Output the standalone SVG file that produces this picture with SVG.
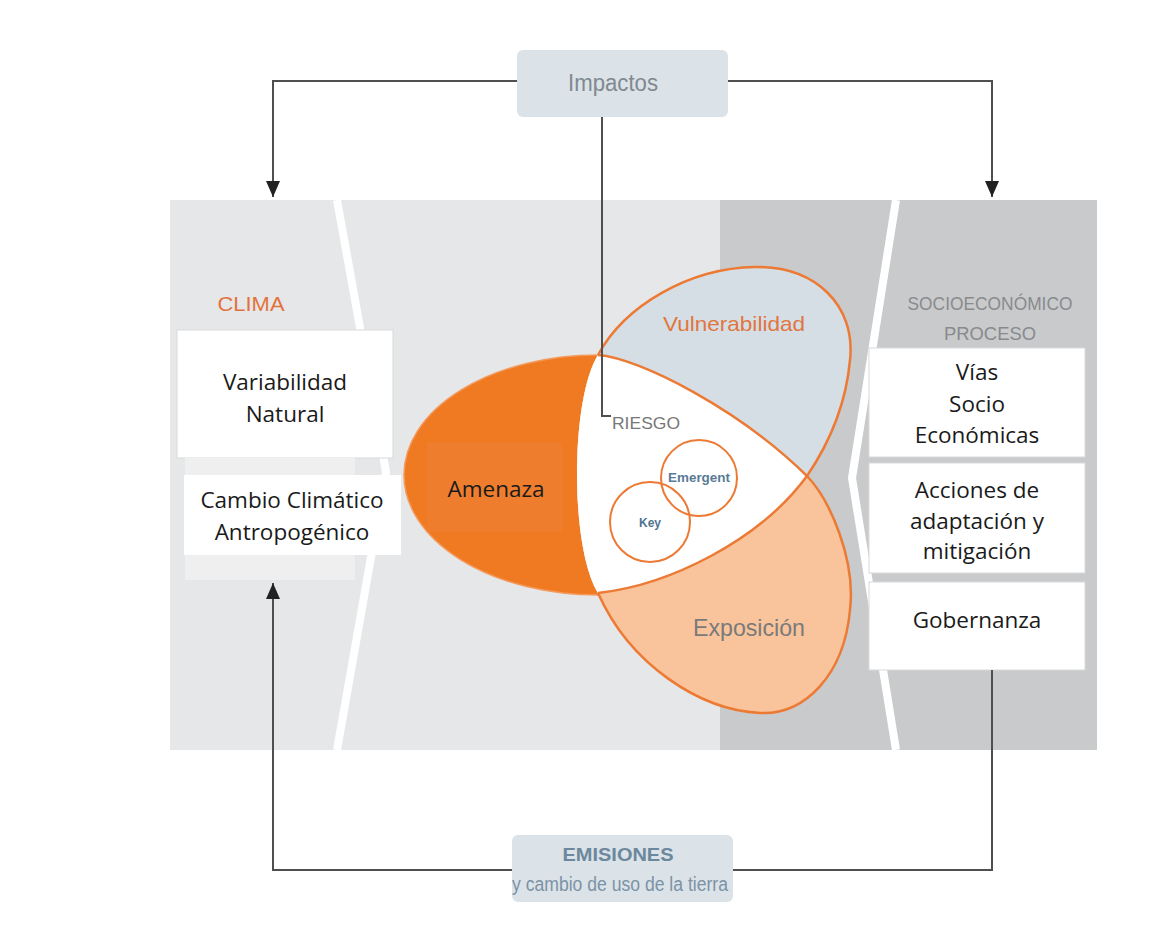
<svg xmlns="http://www.w3.org/2000/svg" width="1172" height="943" viewBox="0 0 1172 943">
<defs>
<style>
.box{fill:#ffffff;stroke:#d8d9db;stroke-width:1}
.bt{font-family:"Open Sans","Liberation Sans",sans-serif;font-size:22.5px;fill:#1a1a1a;text-anchor:middle}
.cond{font-family:"Liberation Sans",Arial,sans-serif;text-anchor:middle}
.conn{fill:none;stroke:#4f4f4f;stroke-width:2}
.ol{fill:none;stroke:#ec7a35;stroke-width:2.5}
</style>
<marker id="arr" markerWidth="16" markerHeight="14" refX="16" refY="7" orient="auto" markerUnits="userSpaceOnUse" viewBox="0 0 16 14">
<path d="M0,0 L16,7 L0,14 Z" fill="#222"/>
</marker>
</defs>
<rect width="1172" height="943" fill="#ffffff"/>
<g id="background">
<rect x="170" y="200" width="551" height="550" fill="#e6e7e9"/>
<rect x="720" y="200" width="377" height="550" fill="#c9cacc"/>
<polyline points="337,200 386,472 337,750" fill="none" stroke="#ffffff" stroke-width="8"/>
<polyline points="896,200 852,478 896,750" fill="none" stroke="#ffffff" stroke-width="8"/>
</g>
<g id="clima">
<text x="251" y="311" class="cond" font-size="20" fill="#e2733c" textLength="67" lengthAdjust="spacingAndGlyphs">CLIMA</text>
</g>
<g id="variabilidad">
<rect class="box" x="177" y="330" width="216" height="128"/>
<text class="bt" x="285" y="390">Variabilidad</text>
<text class="bt" x="285" y="422">Natural</text>
</g>
<g id="cambio">
<rect x="185" y="458" width="170" height="122" fill="#efeff0"/>
<rect x="184" y="475" width="217" height="80" fill="#ffffff"/>
<text class="bt" x="292" y="508">Cambio Climático</text>
<text class="bt" x="292" y="540">Antropogénico</text>
</g>
<g id="socio-title">
<text class="cond" x="990" y="310" font-size="18" fill="#888a8c" textLength="165" lengthAdjust="spacingAndGlyphs">SOCIOECONÓMICO</text>
<text class="cond" x="990" y="340" font-size="18" fill="#888a8c" textLength="92" lengthAdjust="spacingAndGlyphs">PROCESO</text>
</g>
<g id="vias">
<rect class="box" x="869" y="348" width="216" height="109"/>
<text class="bt" x="977" y="380">Vías</text>
<text class="bt" x="977" y="412">Socio</text>
<text class="bt" x="977" y="443">Económicas</text>
</g>
<g id="acciones">
<rect class="box" x="869" y="463" width="216" height="110"/>
<text class="bt" x="977" y="498">Acciones de</text>
<text class="bt" x="977" y="529">adaptación y</text>
<text class="bt" x="977" y="559">mitigación</text>
</g>
<g id="gobernanza">
<rect class="box" x="869" y="582" width="216" height="88"/>
<text class="bt" x="977" y="628">Gobernanza</text>
</g>
<g id="amenaza">
<ellipse cx="598" cy="475" rx="194" ry="120" fill="#f07a22" stroke="#f39a5c" stroke-width="1.5"/>
<rect x="427" y="442" width="135" height="90" fill="#ee7e2e"/>
<text class="bt" x="496" y="497" font-size="26px">Amenaza</text>
</g>
<g id="vulnerabilidad">
<path d="M598,355 C625,305 690,268 755,267 C815,266 856,305 850,360 C846,405 828,445 807,476 C760,540 670,585 598,593 C570,548 570,400 598,355 Z" fill="#d6dee5"/>
</g>
<g id="exposicion">
<path d="M598,355 C640,358 740,410 807,476 C830,500 856,560 850,610 C844,675 805,715 760,713 C700,710 630,665 598,593 C570,548 570,400 598,355 Z" fill="#f9c49c"/>
</g>
<g id="riesgo">
<path d="M598,355 C640,358 740,410 807,476 C760,540 670,585 598,593 C570,548 570,400 598,355 Z" fill="#ffffff"/>
</g>
<g id="outlines">
<path class="ol" d="M598,355 C625,305 690,268 755,267 C815,266 856,305 850,360 C846,405 828,445 807,476 C760,540 670,585 598,593"/>
<path class="ol" d="M598,355 C640,358 740,410 807,476 C830,500 856,560 850,610 C844,675 805,715 760,713 C700,710 630,665 598,593"/>
<text class="cond" x="734" y="331" font-size="21" fill="#e0763f" textLength="142" lengthAdjust="spacingAndGlyphs">Vulnerabilidad</text>
<text class="cond" x="749" y="636" font-size="24" fill="#7a7a7a" textLength="112" lengthAdjust="spacingAndGlyphs">Exposición</text>
</g>
<g id="key">
<circle cx="650" cy="522" r="40" fill="none" stroke="#ec7a35" stroke-width="2"/>
<text class="cond" x="650" y="527" font-size="12" font-weight="bold" fill="#4f7390">Key</text>
</g>
<g id="emergent">
<circle cx="699" cy="478" r="38" fill="none" stroke="#ec7a35" stroke-width="2"/>
<text class="cond" x="699" y="482" font-size="13" font-weight="bold" fill="#5a7b95" textLength="62" lengthAdjust="spacingAndGlyphs">Emergent</text>
</g>
<g id="impactos">
<rect x="517" y="50" width="211" height="67" rx="6" fill="#dbe2e8"/>
<text class="cond" x="613" y="91" font-size="23" fill="#7f898f" textLength="90" lengthAdjust="spacingAndGlyphs">Impactos</text>
</g>
<g id="emisiones">
<rect x="512" y="835" width="221" height="67" rx="6" fill="#dbe2e8"/>
<text class="cond" x="618" y="861" font-size="19" font-weight="bold" fill="#6b889d" textLength="111" lengthAdjust="spacingAndGlyphs">EMISIONES</text>
<text class="cond" x="620" y="891" font-size="20" fill="#7b93a5" textLength="216" lengthAdjust="spacingAndGlyphs">y cambio de uso de la tierra</text>
</g>
<g id="connectors">
<path class="conn" d="M517,81 H273 V197" marker-end="url(#arr)"/>
<path class="conn" d="M728,81 H992 V197" marker-end="url(#arr)"/>
<path class="conn" d="M602,117 V416 H611"/>
<path class="conn" d="M992,670 V870 H733"/>
<path class="conn" d="M512,870 H273 V583" marker-end="url(#arr)"/>
</g>
<g id="riesgo-label">
<text class="cond" x="646" y="429" font-size="17" fill="#777" textLength="68" lengthAdjust="spacingAndGlyphs">RIESGO</text>
</g>
</svg>
